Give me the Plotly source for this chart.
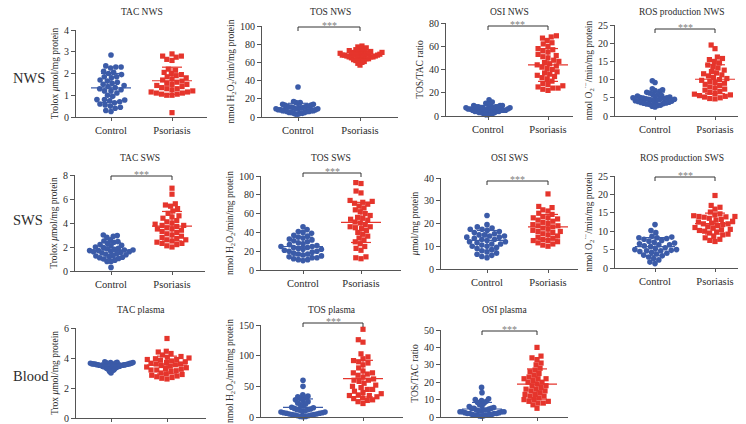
import math
import statistics
import plotly.graph_objects as go

# ---------------- data ----------------
groups = ["Control", "Psoriasis"]

tac_nws_control = [2.85, 2.35, 2.3, 2.25, 2.3, 2.1, 2.05, 2.0, 1.95, 1.85, 1.85, 1.8, 1.7, 1.65, 1.6,
                   1.55, 1.5, 1.45, 1.4, 1.35, 1.3, 1.25, 1.2, 1.2, 1.1, 1.0, 0.95, 0.8, 0.8, 0.78,
                   0.75, 0.7, 0.65, 0.6, 0.55, 0.5, 0.45, 0.4, 0.3, 0.25]
tac_nws_psoriasis = [2.9, 2.8, 2.8, 2.75, 2.65, 2.6, 2.2, 2.15, 2.05, 2.0, 1.95, 1.9, 1.85, 1.8, 1.75,
                     1.7, 1.65, 1.6, 1.55, 1.5, 1.5, 1.45, 1.4, 1.35, 1.3, 1.3, 1.25, 1.2, 1.15, 1.15,
                     1.1, 1.1, 1.05, 1.05, 1.0, 1.0, 0.2]

tos_nws_control = [33, 17, 16, 16, 15, 14, 14, 13, 13, 12, 12, 11, 11, 10, 10, 10, 9, 9, 9, 8,
                   8, 8, 7, 7, 7, 6, 6, 6, 5, 5, 5, 4, 4, 4, 3, 3, 12, 9, 7, 11]
tos_nws_psoriasis = [78, 77, 76, 75, 74, 73, 73, 72, 72, 71, 71, 70, 70, 70, 69, 69, 69, 68, 68, 68,
                     68, 67, 67, 67, 66, 66, 66, 65, 65, 64, 64, 63, 63, 62, 61, 60, 59, 57, 71, 66]

osi_nws_control = [14, 12, 11, 10, 10, 9, 9, 9, 8, 8, 8, 8, 7, 7, 7, 7, 7, 6, 6, 6,
                   6, 6, 5, 5, 5, 5, 5, 4, 4, 4, 4, 3, 3, 3, 2, 2, 2, 1, 1, 6]
osi_nws_psoriasis = [69, 68, 67, 65, 63, 62, 60, 58, 57, 56, 55, 53, 52, 51, 50, 48, 47, 46, 45, 44,
                     43, 42, 41, 40, 38, 37, 36, 35, 34, 33, 32, 30, 28, 27, 26, 25, 24, 24, 23, 22]

ros_nws_control = [9.7, 9.2, 7.5, 7.2, 7.0, 6.8, 6.5, 6.3, 6.0, 5.8, 5.6, 5.5, 5.4, 5.2, 5.1, 5.0,
                   4.9, 4.8, 4.7, 4.6, 4.5, 4.4, 4.3, 4.2, 4.1, 4.0, 3.9, 3.8, 3.7, 3.6, 3.5, 3.4,
                   3.3, 3.2, 3.0, 2.9, 2.7, 2.5, 5.0, 4.6]
ros_nws_psoriasis = [19.5, 18.5, 16.2, 15.8, 15.5, 15.0, 14.6, 14.0, 13.6, 13.2, 12.6, 12.2, 11.8,
                     11.3, 11.0, 10.6, 10.3, 10.0, 9.8, 9.5, 9.2, 9.0, 8.7, 8.4, 8.0, 7.7, 7.4, 7.1,
                     6.8, 6.5, 6.2, 6.0, 5.8, 5.6, 5.4, 5.2, 5.0, 4.8, 4.7, 11.6]

tac_sws_control = [3.0, 2.95, 2.9, 2.8, 2.6, 2.5, 2.45, 2.4, 2.3, 2.2, 2.15, 2.1, 2.0, 1.95, 1.9,
                   1.85, 1.8, 1.75, 1.7, 1.7, 1.65, 1.6, 1.6, 1.55, 1.5, 1.45, 1.4, 1.35, 1.3, 1.25,
                   1.2, 1.15, 1.1, 1.05, 1.0, 0.9, 0.8, 0.8, 0.3, 1.75]
tac_sws_psoriasis = [6.9, 6.4, 5.6, 5.5, 5.4, 5.2, 5.0, 4.8, 4.6, 4.5, 4.4, 4.2, 4.1, 4.0, 3.9, 3.8,
                     3.7, 3.6, 3.5, 3.4, 3.3, 3.2, 3.1, 3.0, 2.9, 2.8, 2.7, 2.6, 2.5, 2.4, 2.3, 2.3,
                     2.2, 2.1, 2.0, 3.5, 3.8, 2.6]

tos_sws_control = [46, 43, 41, 40, 39, 37, 36, 35, 34, 33, 32, 31, 30, 29, 28, 27, 26, 25, 24, 24,
                   23, 22, 22, 21, 20, 19, 18, 17, 17, 16, 15, 14, 13, 13, 12, 11, 11, 10, 25, 20]
tos_sws_psoriasis = [93, 92, 84, 82, 74, 73, 72, 71, 70, 68, 66, 64, 62, 60, 58, 56, 55, 54, 53, 51,
                     50, 48, 46, 45, 44, 42, 40, 38, 36, 34, 32, 30, 28, 25, 23, 21, 14, 13, 12, 46]

osi_sws_control = [23.5, 19.5, 18.5, 18, 17.5, 17, 16.5, 16, 15.5, 15, 15, 14.5, 14, 14, 13.5, 13,
                   13, 12.5, 12, 12, 11.5, 11, 10.5, 10, 10, 9.5, 9, 8.5, 8, 7.5, 7, 6.5, 6, 5.5,
                   5, 17.5, 11, 14.5]
osi_sws_psoriasis = [33, 27.5, 27, 26, 25.5, 24.5, 24, 23, 22.5, 22, 21.5, 21, 20.5, 20, 19.5, 19,
                     18.5, 18, 17.5, 17, 16.5, 16, 15.5, 15, 14.5, 14, 13.5, 13, 12.5, 12, 11.5, 11,
                     10.5, 10, 16.5, 22.5, 12.5, 19]

ros_sws_control = [11.8, 10.2, 9.6, 8.6, 8.4, 8.2, 8.0, 7.8, 7.5, 7.3, 7.0, 6.8, 6.6, 6.3, 6.0, 5.8,
                   5.5, 5.2, 5.0, 4.8, 4.7, 4.5, 4.2, 4.0, 3.8, 3.5, 3.3, 3.0, 2.6, 2.2, 1.6, 1.2,
                   6.3, 5.0, 8.2, 4.7]
ros_sws_psoriasis = [19.7, 17.0, 16.5, 16.0, 15.2, 14.7, 14.4, 14.2, 14.0, 13.8, 13.5, 13.2, 13.0,
                     12.7, 12.5, 12.2, 12.0, 11.8, 11.5, 11.2, 11.0, 10.8, 10.5, 10.2, 10.0, 9.8,
                     9.5, 9.2, 9.0, 8.6, 8.2, 7.8, 7.5, 7.2, 12.0, 13.9, 10.4, 14.0]

tac_plasma_control = [3.75, 3.72, 3.7, 3.7, 3.68, 3.66, 3.65, 3.64, 3.62, 3.6, 3.6, 3.58, 3.58,
                      3.56, 3.55, 3.55, 3.54, 3.52, 3.5, 3.5, 3.5, 3.48, 3.46, 3.45, 3.44, 3.42,
                      3.4, 3.38, 3.35, 3.32, 3.3, 3.25, 3.2, 3.15, 3.1, 3.0, 3.6, 3.55, 3.65, 3.52]
tac_plasma_psoriasis = [5.3, 4.45, 4.4, 4.3, 4.2, 4.1, 4.05, 4.0, 3.95, 3.9, 3.85, 3.8, 3.75, 3.7,
                        3.65, 3.6, 3.55, 3.5, 3.45, 3.4, 3.35, 3.3, 3.25, 3.2, 3.15, 3.1, 3.0, 2.95,
                        2.9, 2.85, 2.8, 2.75, 2.7, 2.65, 2.6, 3.6, 3.9, 3.2]

tos_plasma_control = [60, 50, 36, 34, 33, 32, 30, 28, 27, 25, 23, 21, 20, 18, 16, 15, 14, 13, 12, 11,
                      10, 9, 8, 7, 7, 6, 6, 5, 5, 4, 4, 3, 3, 2, 2, 1, 1, 0.5, 12, 8]
tos_plasma_psoriasis = [143, 126, 122, 103, 98, 95, 92, 90, 88, 85, 80, 75, 72, 70, 68, 65, 62, 60,
                        58, 55, 52, 50, 48, 45, 42, 40, 38, 36, 35, 33, 31, 30, 28, 27, 25, 22, 60,
                        45, 35, 72]

osi_plasma_control = [17, 14, 10.5, 10, 9.5, 9, 8.5, 8, 7, 6.5, 6, 5.5, 5, 5, 4.5, 4, 4, 3.5, 3.5, 3,
                      3, 3, 2.5, 2.5, 2, 2, 2, 1.5, 1.5, 1.5, 1, 1, 1, 0.8, 0.6, 0.5, 3, 4, 2, 5]
osi_plasma_psoriasis = [40, 35, 34, 33, 31, 30, 28, 27, 26, 25, 24, 23, 22, 22, 21, 20, 19, 18, 17,
                        16, 15, 15, 14, 13, 12, 12, 11, 10, 10, 9, 9, 8, 8, 7, 5, 20, 18, 16, 22, 13]

panel_titles = ["TAC NWS", "TOS NWS", "OSI NWS", "ROS production NWS",
                "TAC SWS", "TOS SWS", "OSI SWS", "ROS production SWS",
                "TAC plasma", "TOS plasma", "OSI plasma"]

h2o2 = "nmol H<sub>2</sub>O<sub>2</sub>/min/mg protein"
o2 = "nmol O<sub>2</sub><sup>·−</sup>/min/mg protein"
y_titles = ["Trolox <i>μ</i>mol/mg protein", h2o2, "TOS/TAC ratio", o2,
            "Trolox <i>μ</i>mol/mg protein", h2o2, "<i>μ</i>mol/mg protein", o2,
            "Trox <i>μ</i>mol/mg protein", h2o2, "TOS/TAC ratio"]

y_ticks = [[0, 1, 2, 3, 4], [0, 20, 40, 60, 80, 100], [0, 20, 40, 60, 80], [0, 5, 10, 15, 20, 25],
           [0, 2, 4, 6, 8], [0, 20, 40, 60, 80, 100], [0, 10, 20, 30, 40], [0, 5, 10, 15, 20, 25],
           [0, 2, 4, 6], [0, 50, 100, 150], [0, 10, 20, 30, 40, 50]]

significant = [False, True, True, True, True, True, True, True, False, True, True]

row_labels = ["NWS", "SWS", "Blood"]

panel_data = [
    (tac_nws_control, tac_nws_psoriasis), (tos_nws_control, tos_nws_psoriasis),
    (osi_nws_control, osi_nws_psoriasis), (ros_nws_control, ros_nws_psoriasis),
    (tac_sws_control, tac_sws_psoriasis), (tos_sws_control, tos_sws_psoriasis),
    (osi_sws_control, osi_sws_psoriasis), (ros_sws_control, ros_sws_psoriasis),
    (tac_plasma_control, tac_plasma_psoriasis), (tos_plasma_control, tos_plasma_psoriasis),
    (osi_plasma_control, osi_plasma_psoriasis),
]

# ---------------- layout geometry (pixels) ----------------
W, H = 746, 424
# x0 (y-axis), x1 (axis end), y bottom, y top, control centre, psoriasis centre, bracket y
geom = [
    (68, 199, 109, 22, 103, 164, None),
    (254, 390, 109, 18, 290, 352, 19),
    (438, 565, 108, 15, 480, 540, 18),
    (607, 740, 108, 17, 647, 707, 21),
    (67, 197, 263, 167, 103, 164, 168),
    (253, 393, 262, 168, 295, 353, 165),
    (433, 570, 261, 170, 479, 540, 173),
    (607, 740, 260, 168, 647, 707, 169),
    (68, 198, 410, 320, 103, 159, None),
    (253, 395, 409, 317, 295, 355, 315),
    (433, 560, 409, 322, 474, 529, 323),
]
title_y = [4, 4, 4, 4, 150, 150, 150, 150, 302, 302, 302]
row_label_y = [70, 212, 368]

BLUE = "#3B5BA8"
RED = "#E5352C"
FONT = "Liberation Serif, Times New Roman, serif"
TXT = "#2b2b2b"
AX = "#555555"


def swarm(values, px_per_unit, d=5.3, max_half=22.0):
    """Deterministic beeswarm offsets (pixels)."""
    order = sorted(range(len(values)), key=lambda i: values[i])
    placed = []
    offs = [0.0] * len(values)
    for i in order:
        y = values[i] * px_per_unit
        forb = []
        for yy, xx in placed:
            dy = abs(y - yy)
            if dy < d:
                h = math.sqrt(d * d - dy * dy)
                forb.append((xx - h, xx + h))
        cands = [0.0] + [a for a, b in forb] + [b for a, b in forb]
        cands.sort(key=lambda c: (abs(c), c))
        chosen = 0.0
        for c in cands:
            if all(not (a + 1e-9 < c < b - 1e-9) for a, b in forb):
                chosen = c
                break
        placed.append((y, chosen))
        offs[i] = chosen
    m = max(abs(o) for o in offs) or 1.0
    if m > max_half:
        offs = [o * max_half / m for o in offs]
    return offs


fig = go.Figure()
shapes = []
annotations = []

for k, (data, g, ttl, yt, tk, sig) in enumerate(
        zip(panel_data, geom, panel_titles, y_titles, y_ticks, significant), start=1):
    x0, x1, yb, ytp, cx, px, byr = g
    xa = "x" if k == 1 else f"x{k}"
    ya = "y" if k == 1 else f"y{k}"
    ymax = tk[-1]
    ppu_y = (yb - ytp) / ymax
    ppu_x = float(px - cx)
    lo = -(cx - x0) / ppu_x
    hi = 1 + (x1 - px) / ppu_x

    for gi, (vals, col, sym, size) in enumerate(
            zip(data, [BLUE, RED], ["circle", "square"], [5.6, 5.2])):
        offs = swarm(vals, ppu_y)
        xs = [gi + o / ppu_x for o in offs]
        fig.add_trace(go.Scatter(
            x=xs, y=vals, mode="markers", xaxis=xa, yaxis=ya, cliponaxis=False,
            marker=dict(color=col, symbol=sym, size=size, line=dict(width=0)),
            showlegend=False, hoverinfo="y"))
        mean = statistics.mean(vals)
        sd = statistics.stdev(vals)
        mw = 20.0 / ppu_x
        cw = 10.0 / ppu_x
        lx = [gi - mw, gi + mw, None, gi - cw, gi + cw, None, gi - cw, gi + cw, None, gi, gi]
        ly = [mean, mean, None, mean + sd, mean + sd, None, mean - sd, mean - sd, None,
              max(mean - sd, 0), mean + sd]
        fig.add_trace(go.Scatter(
            x=lx, y=ly, mode="lines", xaxis=xa, yaxis=ya,
            line=dict(color=col, width=1.2), showlegend=False, hoverinfo="skip"))

    xkey = "xaxis" if k == 1 else f"xaxis{k}"
    ykey = "yaxis" if k == 1 else f"yaxis{k}"
    fig.layout[xkey] = dict(
        domain=[x0 / W, x1 / W], anchor=ya, range=[lo, hi],
        tickvals=[0, 1], ticktext=groups, ticks="outside", ticklen=3, tickwidth=1,
        tickcolor=AX, showline=True, linecolor=AX, linewidth=1, showgrid=False,
        zeroline=False, tickfont=dict(family=FONT, size=10.5, color=TXT), automargin=False)
    fig.layout[ykey] = dict(
        domain=[1 - yb / H, 1 - ytp / H], anchor=xa, range=[0, ymax],
        tickvals=tk, ticks="outside", ticklen=4, tickwidth=1, tickcolor=AX,
        showline=True, linecolor=AX, linewidth=1, showgrid=False, zeroline=False,
        tickfont=dict(family=FONT, size=10, color=TXT), automargin=False,
        title=dict(text=yt, font=dict(family=FONT, size=9.5, color=TXT), standoff=3))

    annotations.append(dict(
        text=ttl, xref="paper", yref="paper", x=(x0 + x1) / 2 / W, y=1 - title_y[k - 1] / H,
        showarrow=False, xanchor="center", yanchor="middle",
        font=dict(family=FONT, size=9.5, color=TXT)))

    if sig:
        yline = 1 - byr / H
        ytick = 1 - (byr + 4) / H
        for sx0, sx1, sy0, sy1 in [(0, 1, yline, yline), (0, 0, yline, ytick), (1, 1, yline, ytick)]:
            shapes.append(dict(type="line", xref=xa, yref="paper", x0=sx0, x1=sx1,
                               y0=sy0, y1=sy1, line=dict(color="#333333", width=1)))
        annotations.append(dict(
            text="***", xref=xa, yref="paper", x=0.5, y=1 - (byr - 1.5) / H,
            showarrow=False, xanchor="center", yanchor="middle",
            font=dict(family=FONT, size=10, color="#808080")))

for lbl, yy in zip(row_labels, row_label_y):
    annotations.append(dict(
        text=lbl, xref="paper", yref="paper", x=3 / W, y=1 - yy / H, showarrow=False,
        xanchor="left", yanchor="middle", font=dict(family=FONT, size=14.5, color=TXT)))

fig.update_layout(
    width=W, height=H, margin=dict(l=0, r=0, t=0, b=0),
    paper_bgcolor="white", plot_bgcolor="white",
    shapes=shapes, annotations=annotations, showlegend=False)

fig.write_html("out.html")
